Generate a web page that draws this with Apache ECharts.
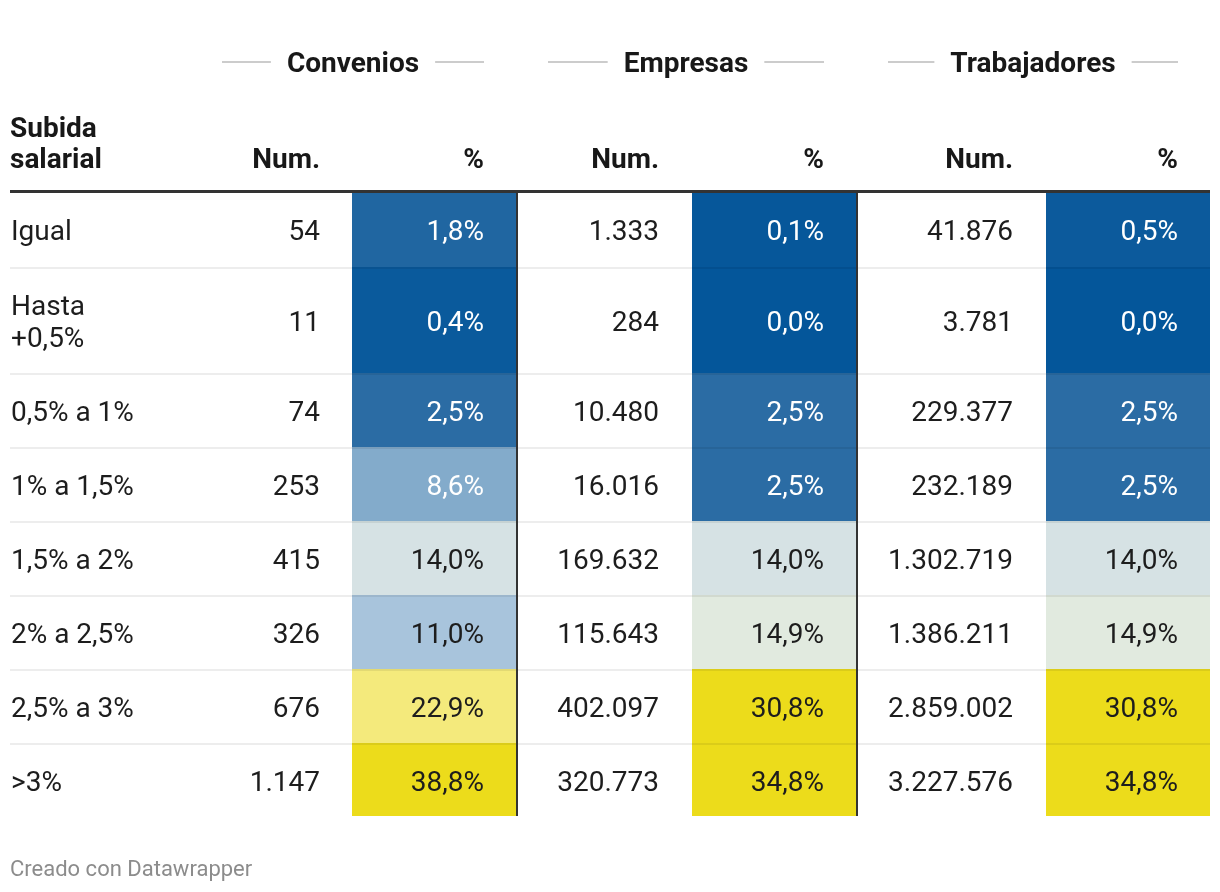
<!DOCTYPE html>
<html>
<head>
<meta charset="utf-8">
<script src="https://cdn.jsdelivr.net/npm/echarts@6/dist/echarts.min.js"></script>
<style>
html,body{margin:0;padding:0;background:#fff;}
#chart{width:1220px;height:892px;}
</style>
</head>
<body>
<div id="chart"></div>
<script>
// ---------- DATA ----------
const rowLabels = ['Igual', 'Hasta\n+0,5%', '0,5% a 1%', '1% a 1,5%', '1,5% a 2%', '2% a 2,5%', '2,5% a 3%', '>3%'];
const groupNames = ['Convenios', 'Empresas', 'Trabajadores'];
const firstHeader = 'Subida\nsalarial';
const numHeader = 'Num.';
const pctHeader = '%';
const conveniosNum = [54, 11, 74, 253, 415, 326, 676, 1147];
const conveniosPct = [1.8, 0.4, 2.5, 8.6, 14.0, 11.0, 22.9, 38.8];
const empresasNum = [1333, 284, 10480, 16016, 169632, 115643, 402097, 320773];
const empresasPct = [0.1, 0.0, 2.5, 2.5, 14.0, 14.9, 30.8, 34.8];
const trabajadoresNum = [41876, 3781, 229377, 232189, 1302719, 1386211, 2859002, 3227576];
const trabajadoresPct = [0.5, 0.0, 2.5, 2.5, 14.0, 14.9, 30.8, 34.8];
const footerText = 'Creado con Datawrapper';

// ---------- LAYOUT / STYLE ----------
const FONT = 'Roboto, "Noto Sans", sans-serif';
const TXT_DY = 3;
const tableLeft = 10, tableRight = 1210;
const bodyTop = 193;
const rowHeights = [74, 106, 74, 74, 74, 74, 74, 73];
const groupCols = [
  {numRight: 320, cellL: 352, cellR: 517, spanL: 222, spanR: 484},
  {numRight: 659, cellL: 692, cellR: 857, spanL: 548, spanR: 824},
  {numRight: 1013, cellL: 1046, cellR: 1210, spanL: 888, spanR: 1178}
];
const pctPad = 32;
const colorStops = [
  [0, '#04569a'], [2.5, '#2b6ca4'], [8.6, '#83abcb'], [11, '#a8c4dc'],
  [14, '#d6e2e4'], [14.9, '#e1eadf'], [22.9, '#f4ea7c'], [30.8, '#ecdc1b'], [100, '#ecdc1b']
];
function scaleColor(v) {
  for (let i = 0; i < colorStops.length - 1; i++) {
    const a = colorStops[i], b = colorStops[i + 1];
    if (v <= b[0]) {
      const t = (v - a[0]) / (b[0] - a[0]);
      return echarts.color.lerp(Math.max(0, Math.min(1, t)), [a[1], b[1]]);
    }
  }
  return colorStops[colorStops.length - 1][1];
}
function fmtNum(n) {
  return String(n).replace(/\B(?=(\d{3})+(?!\d))/g, '.');
}
function fmtPct(v) {
  return v.toFixed(1).replace('.', ',') + '%';
}
const rowTops = [];
{ let y = bodyTop; rowHeights.forEach(h => { rowTops.push(y); y += h; }); }

const nums = [conveniosNum, empresasNum, trabajadoresNum];
const pcts = [conveniosPct, empresasPct, trabajadoresPct];

const chart = echarts.init(document.getElementById('chart'), null, {renderer: 'canvas'});

function renderRow(params, api) {
  const r = params.dataIndex;
  const top = rowTops[r], h = rowHeights[r];
  const p = (x, y) => api.coord([x, y]);
  const children = [];
  const mid = top + h / 2 + (r === 0 ? 0 : 1) + TXT_DY;
  for (let g = 0; g < 3; g++) {
    const c = groupCols[g];
    const a = p(c.cellL, top), b = p(c.cellR, top + h);
    children.push({type: 'rect', shape: {x: a[0], y: a[1], width: b[0] - a[0], height: b[1] - a[1]},
      style: {fill: scaleColor(pcts[g][r])}});
  }
  if (r > 0) {
    const a = p(tableLeft, top + 1), b = p(tableRight, top + 1);
    children.push({type: 'line', shape: {x1: a[0], y1: a[1], x2: b[0], y2: b[1]},
      style: {stroke: 'rgba(0,0,0,0.07)', lineWidth: 2}});
  }
  for (let g = 0; g < 2; g++) {
    const x = groupCols[g].cellR;
    const a = p(x, top), b = p(x, top + h);
    children.push({type: 'line', shape: {x1: a[0], y1: a[1], x2: b[0], y2: b[1]},
      style: {stroke: '#333333', lineWidth: 2}});
  }
  const lp = p(tableLeft + 1, mid);
  children.push({type: 'text', x: lp[0], y: lp[1], style: {text: rowLabels[r], fill: '#1d1d1d',
    font: '400 28px ' + FONT, align: 'left', verticalAlign: 'middle', lineHeight: 32}});
  for (let g = 0; g < 3; g++) {
    const c = groupCols[g];
    const np = p(c.numRight, mid);
    children.push({type: 'text', x: np[0], y: np[1], style: {text: fmtNum(nums[g][r]), fill: '#1d1d1d',
      font: '400 28px ' + FONT, align: 'right', verticalAlign: 'middle'}});
    const v = pcts[g][r];
    const pp = p(c.cellR - pctPad - (g === 2 ? 0 : 1), mid);
    children.push({type: 'text', x: pp[0], y: pp[1], style: {text: fmtPct(v), fill: v < 10 ? '#ffffff' : '#1d1d1d',
      font: '400 28px ' + FONT, align: 'right', verticalAlign: 'middle'}});
  }
  return {type: 'group', children};
}

const graphics = [];
const groupY = 62;
groupCols.forEach((c, g) => {
  const cx = (c.spanL + c.spanR) / 2;
  graphics.push({type: 'text', x: cx, y: groupY + TXT_DY, style: {text: groupNames[g], fill: '#181818',
    font: '700 28px ' + FONT, align: 'center', verticalAlign: 'middle'}});
});
const headerY = 158 + TXT_DY;
graphics.push({type: 'text', x: tableLeft, y: 142 + TXT_DY, style: {text: firstHeader, fill: '#181818',
  font: '700 28px ' + FONT, align: 'left', verticalAlign: 'middle', lineHeight: 31}});
groupCols.forEach((c) => {
  graphics.push({type: 'text', x: c.numRight, y: headerY, style: {text: numHeader, fill: '#181818',
    font: '700 28px ' + FONT, align: 'right', verticalAlign: 'middle'}});
  graphics.push({type: 'text', x: c.spanR, y: headerY, style: {text: pctHeader, fill: '#181818',
    font: '700 28px ' + FONT, align: 'right', verticalAlign: 'middle'}});
});
graphics.push({type: 'line', shape: {x1: tableLeft, y1: 191.5, x2: tableRight, y2: 191.5},
  style: {stroke: '#333333', lineWidth: 3}});
graphics.push({type: 'text', x: tableLeft, y: 870, style: {text: footerText, fill: '#8c8c8c',
  font: '400 22px ' + FONT, align: 'left', verticalAlign: 'middle'}});

const ctx = document.createElement('canvas').getContext('2d');
ctx.font = '700 28px ' + FONT;
groupCols.forEach((c, g) => {
  const w = ctx.measureText(groupNames[g]).width;
  const cx = (c.spanL + c.spanR) / 2;
  const gap = 16;
  graphics.push({type: 'line', shape: {x1: c.spanL, y1: groupY, x2: cx - w / 2 - gap, y2: groupY}, style: {stroke: '#cccccc', lineWidth: 2}});
  graphics.push({type: 'line', shape: {x1: cx + w / 2 + gap, y1: groupY, x2: c.spanR, y2: groupY}, style: {stroke: '#cccccc', lineWidth: 2}});
});

const option = {
  animation: false,
  grid: {left: 0, right: 0, top: 0, bottom: 0},
  xAxis: {type: 'value', min: 0, max: 1220, show: false},
  yAxis: {type: 'value', min: 0, max: 892, inverse: true, show: false},
  graphic: graphics,
  series: [{
    type: 'custom',
    coordinateSystem: 'cartesian2d',
    renderItem: renderRow,
    data: rowLabels.map((_, i) => [i, i]),
    silent: true
  }]
};
chart.setOption(option);
</script>
</body>
</html>
